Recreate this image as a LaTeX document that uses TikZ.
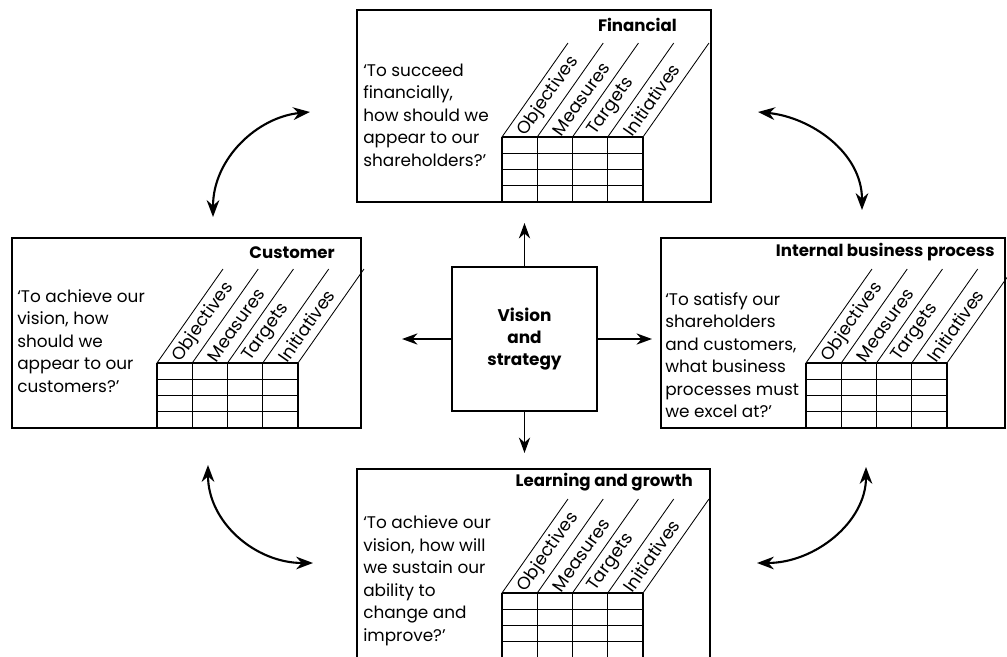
\documentclass[tikz,border=0pt]{standalone}
\usepackage{fontspec}
\setmainfont{Poppins}
\usepackage{tikz}
\usetikzlibrary{arrows.meta}

\begin{document}
\begin{tikzpicture}[
    x=0.025cm, y=-0.025cm,
    panel/.style={draw, line width=1.9pt, outer sep=0pt, inner sep=0pt},
    vbox/.style={draw, line width=1.7pt, outer sep=0pt, minimum width=3.625cm, minimum height=3.6cm, align=center, font=\fontsize{12}{15.5}\selectfont\bfseries},
    quest/.style={anchor=west, align=left, inner sep=0pt, font=\fontsize{12}{16}\selectfont},
    head/.style={anchor=east, inner sep=0pt, font=\fontsize{11.8}{14}\selectfont\bfseries},
    colhead/.style={anchor=west, rotate=54.9, inner sep=0pt, font=\fontsize{12.5}{13}\selectfont},
    gridln/.style={line width=0.9pt},
    arr/.style={-{Stealth[length=11pt, width=8pt]}, line width=1pt},
    dbl/.style={{Stealth[length=12pt, width=9pt]}-{Stealth[length=12pt, width=9pt]}, line width=1.5pt}
]
    \useasboundingbox (0,0) rectangle (1007,657);

    % the four perspectives
    \node[panel, minimum width=8.85cm, minimum height=4.8cm] (fin) at (534,106) {};
    \node[panel, minimum width=8.725cm, minimum height=4.75cm] (cus) at (186.5,333) {};
    \node[panel, minimum width=8.6cm, minimum height=4.75cm] (ibp) at (833,333) {};
    \node[panel, minimum width=8.825cm, minimum height=4.725cm] (lrn) at (533.5,563.5) {};

    \node[head] (fin-t) at (677,25) {Financial};
    \node[head] (cus-t) at (335,253) {Customer};
    \node[head] (ibp-t) at (995,252) {Internal business process};
    \node[head] (lrn-t) at (693,482) {Learning and growth};

    \node[quest] (fin-q) at (363,115) {`To succeed\\financially,\\how should we\\appear to our\\shareholders?'};
    \node[quest] (cus-q) at (17,341) {`To achieve our\\vision, how\\should we\\appear to our\\customers?'};
    \node[quest] (ibp-q) at (665,355) {`To satisfy our\\shareholders\\and customers,\\what business\\processes must\\we excel at?'};
    \node[quest] (lrn-q) at (363,581) {`To achieve our\\vision, how will\\we sustain our\\ability to\\change and\\improve?'};

    % grid with slanted column heads in each panel
    \foreach \p in {fin,cus,ibp,lrn}{
        \begin{scope}[shift={(\p.south west)}]
            \foreach \r in {1,2,3}
                \draw[gridln] (145,-\r*16.25) -- (286,-\r*16.25);
            \draw[line width=1.3pt] (145,-65) -- (286,-65);
            \foreach \c in {0,...,4}{
                \draw[gridln] (145+\c*35.25,-65) -- (145+\c*35.25,0);
                \draw[line width=0.6pt] (145+\c*35.25,-65) -- ++(66,-94);
            }
            \foreach \lab [count=\c from 0] in {Objectives,Measures,Targets,Initiatives}
                \node[colhead] (\p-\c) at (145+\c*35.25+19.5,-68) {\lab};
        \end{scope}
    }

    % centre
    \node[vbox] (vis) at (524.5,339) {Vision\\and\\strategy};

    \draw[arr, shorten >=0.525cm] (vis) -- (vis |- fin.south);
    \draw[arr, shorten >=0.4cm] (vis) -- (vis |- lrn.north);
    \draw[arr, shorten >=1.025cm] (vis) -- (vis -| cus.east);
    \draw[arr, shorten >=0.225cm] (vis) -- (vis -| ibp.west);

    % links between perspectives
    \coordinate (tl-a) at (310,112);
    \coordinate (tl-b) at (213,217);
    \coordinate (tr-a) at (758,112);
    \coordinate (tr-b) at (862,210);
    \coordinate (bl-a) at (208,465);
    \coordinate (bl-b) at (313,563);
    \coordinate (br-a) at (866,467);
    \coordinate (br-b) at (757,563);

    \draw[dbl] (tl-a) .. controls (258,117) and (213,158) .. (tl-b);
    \draw[dbl] (tr-a) .. controls (810,117) and (862,152) .. (tr-b);
    \draw[dbl] (bl-a) .. controls (208,522) and (255,563) .. (bl-b);
    \draw[dbl] (br-a) .. controls (866,522) and (815,563) .. (br-b);
\end{tikzpicture}
\end{document}
